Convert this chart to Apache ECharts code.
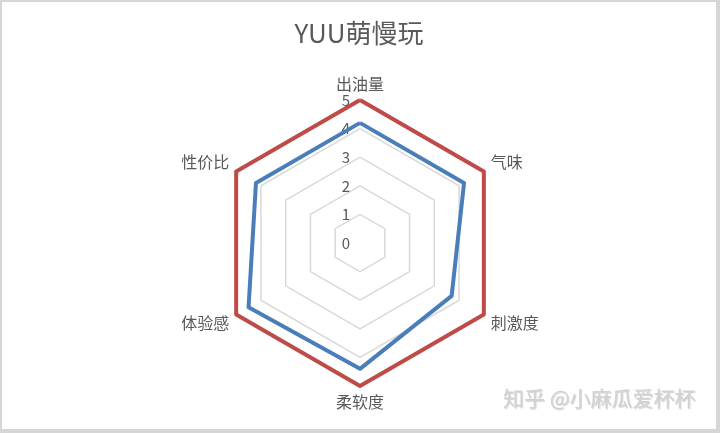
<!DOCTYPE html>
<html>
<head>
<meta charset="utf-8">
<script src="https://cdn.jsdelivr.net/npm/echarts@6/dist/echarts.min.js"></script>
<style>
html,body{margin:0;padding:0;background:#d6d6d6;}
#c{position:absolute;left:2px;top:2px;width:714px;height:427px;background:#fff;}
</style>
</head>
<body>
<div id="c"></div>
<script>
// categories in clockwise order starting from top
const categories = ['出油量', '气味', '刺激度', '柔软度', '体验感', '性价比'];
const seriesFull = [5, 5, 5, 5, 5, 5];
const seriesYUU = [4.2, 4.2, 3.7, 4.4, 4.5, 4.2];
const tickLabels = ['0', '1', '2', '3', '4', '5'];
const titleText = 'YUU萌慢玩';
const watermark = '知乎 @小麻瓜爱杯杯';

// ECharts radar goes counter-clockwise; reorder to appear clockwise
const order = [0, 5, 4, 3, 2, 1];
const reorder = arr => order.map(i => arr[i]);
const upperSide = ['气味', '性价比'];
const lowerSide = ['刺激度', '体验感'];

const chart = echarts.init(document.getElementById('c'));
const font = '"Noto Sans CJK SC", "Noto Sans", sans-serif';
const cx = 358, cy = 241;
const nameStyle = {color: '#595959', fontSize: 16, fontFamily: font};
chart.setOption({
  animation: false,
  title: {
    text: titleText, left: 'center', top: 13,
    textStyle: {color: '#595959', fontSize: 26, fontWeight: 'normal', fontFamily: font}
  },
  radar: {
    center: [cx, cy], radius: 143, startAngle: 90, splitNumber: 5, shape: 'polygon',
    nameGap: 8,
    indicator: reorder(categories).map(n => ({name: n, min: 0, max: 5})),
    axisName: {
      color: '#595959', fontSize: 16, fontFamily: font,
      formatter: (n) => upperSide.includes(n) ? '{up|' + n + '}' : lowerSide.includes(n) ? '{dn|' + n + '}' : '{n|' + n + '}',
      rich: {
        up: Object.assign({padding: [0, 0, 12, 0]}, nameStyle),
        dn: Object.assign({padding: [8, 0, 0, 0]}, nameStyle),
        n: Object.assign({}, nameStyle)
      }
    },
    axisLine: {show: false},
    axisTick: {show: false},
    axisLabel: {show: false},
    splitArea: {show: false},
    splitLine: {lineStyle: {color: '#d9d9d9', width: 1.5}}
  },
  polar: {center: [cx, cy], radius: 143},
  angleAxis: {show: false, startAngle: 90, min: 0, max: 360},
  radiusAxis: {
    min: 0, max: 5, interval: 1,
    axisLine: {show: false}, axisTick: {show: false}, splitLine: {show: false},
    axisLabel: {color: '#595959', fontSize: 15, fontFamily: font, margin: 10,
      formatter: (v) => tickLabels[Math.round(v)]}
  },
  series: [{
    type: 'radar',
    symbol: 'none',
    data: [
      {value: reorder(seriesFull), lineStyle: {color: '#BE4B48', width: 4}, itemStyle: {color: '#BE4B48'}},
      {value: reorder(seriesYUU), lineStyle: {color: '#4A7EBB', width: 4}, itemStyle: {color: '#4A7EBB'}}
    ]
  }],
  graphic: [{
    type: 'text', left: 501, top: 386,
    style: {text: watermark, fill: '#d2d2d2', fontSize: 21, fontFamily: font,
      textShadowColor: 'rgba(0,0,0,0.18)', textShadowBlur: 1, textShadowOffsetX: 1, textShadowOffsetY: 1}
  }]
});
</script>
</body>
</html>
